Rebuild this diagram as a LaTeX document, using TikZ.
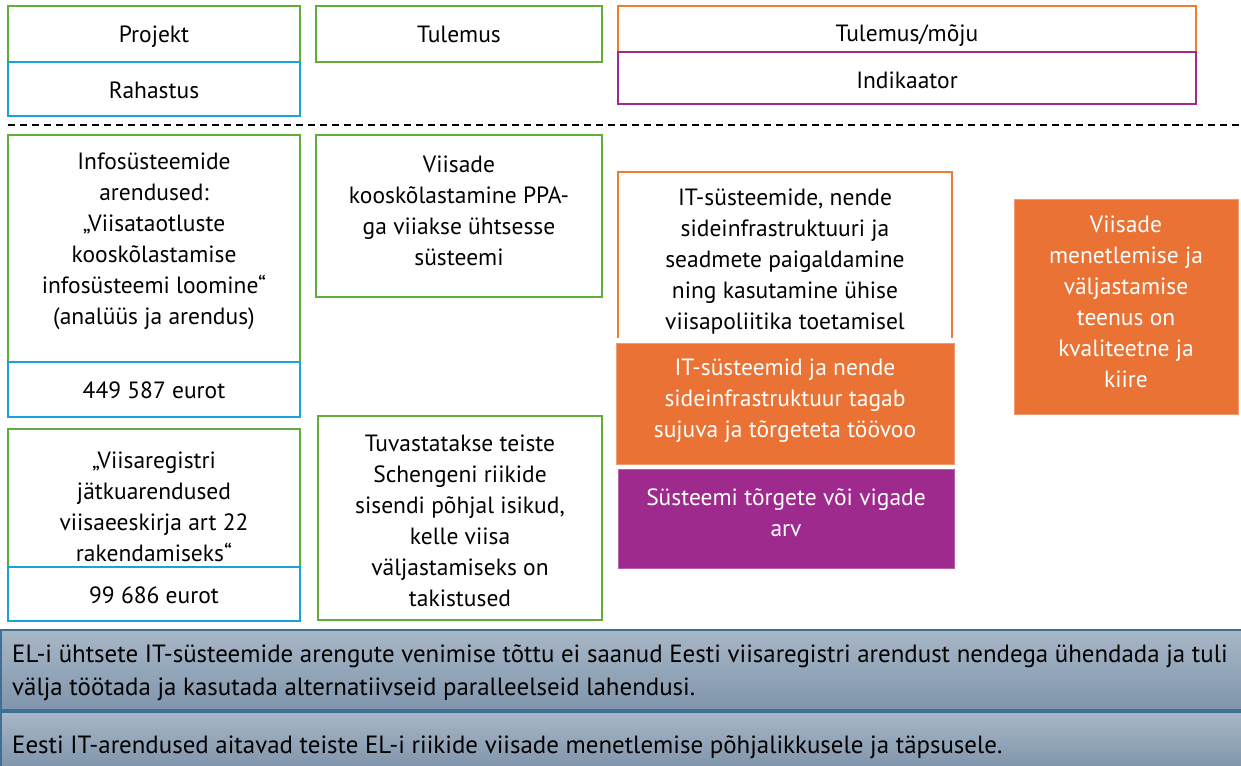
\documentclass[tikz,border=0pt]{standalone}
\usepackage{fontspec}
\setmainfont{PT Sans}
\definecolor{cgreen}{RGB}{98,172,58}
\definecolor{cblue}{RGB}{27,161,219}
\definecolor{corange}{RGB}{237,125,49}
\definecolor{cofill}{RGB}{233,114,52}
\definecolor{cpurple}{RGB}{160,41,143}
\definecolor{cpfill}{RGB}{158,42,142}
\definecolor{bandtop}{RGB}{168,183,199}
\definecolor{bandbot}{RGB}{128,149,172}
\definecolor{bandline}{RGB}{62,112,150}
\tikzset{
  box/.style={anchor=north west, inner sep=0pt, outer sep=0pt, line width=2.5pt},
  gbox/.style={box, draw=cgreen},
  bbox/.style={box, draw=cblue},
  obox/.style={box, draw=corange},
  pbox/.style={box, draw=cpurple},
  ofill/.style={box, fill=cofill, draw=cofill!70!white, line width=1pt},
  pfill/.style={box, fill=cpfill, draw=cpfill!75!white, line width=1pt},
  band/.style={anchor=north west, inner sep=0pt, outer sep=0pt, top color=bandtop, bottom color=bandbot, draw=bandline, line width=1.5pt},
  txt/.style={align=center, inner sep=0pt, font=\fontsize{23.5}{31}\selectfont},
  stxt/.style={txt, text height=17pt, text depth=5pt},
  wtxt/.style={txt, text=white},
  btxt/.style={anchor=base west, inner sep=0pt, font=\fontsize{24.9}{31}\selectfont},
  sep/.style={line width=1.5pt, dash pattern=on 7pt off 5pt}
}
\begin{document}
\begin{tikzpicture}[x=1pt,y=-1pt]
\useasboundingbox (0,0) rectangle (1241,765);
% header
\node[gbox, minimum width=292, minimum height=56] (proj) at (8,6) {};
\node[bbox, minimum width=292, minimum height=54] (rah) at (8,62) {};
\node[gbox, minimum width=286, minimum height=56] (tul) at (316,6) {};
\node[obox, minimum width=578, minimum height=46] (tmoju) at (618,6) {};
\node[pbox, minimum width=578, minimum height=52] (ind) at (618,52) {};
\node[stxt] (projt) at (154,36.5) {Projekt};
\node[stxt] (raht) at (154,92.5) {Rahastus};
\node[stxt] (tult) at (459,36.5) {Tulemus};
\node[stxt] (tmojut) at (907,35.5) {Tulemus/mõju};
\node[stxt] (indt) at (907,83) {Indikaator};
% separator
\coordinate (sepl) at (8,125);
\coordinate (sepr) at (1241,125);
\draw[sep] (sepl) -- (sepr);
% body boxes
\node[gbox, minimum width=292, minimum height=227] (info) at (8,135) {};
\node[bbox, minimum width=292, minimum height=55] (eur1) at (8,362) {};
\node[gbox, minimum width=286, minimum height=162] (viis) at (316,135) {};
\node[gbox, minimum width=292, minimum height=138] (reg) at (8,429) {};
\node[bbox, minimum width=292, minimum height=54] (eur2) at (8,567) {};
\node[gbox, minimum width=284, minimum height=204] (tuv) at (318,416) {};
\node[box, minimum width=334, minimum height=166] (it) at (618,172) {};
\draw[corange, line width=2.5pt] (it.south west) -- (it.north west) -- (it.north east) -- (it.south east);
\node[ofill, minimum width=338, minimum height=121] (itf) at (616,343) {};
\node[pfill, minimum width=336, minimum height=99] (sys) at (618,469) {};
\node[ofill, minimum width=224, minimum height=215] (men) at (1014,199) {};
% texts
\node[txt] (infot) at (154,241) {Infosüsteemide\\arendused:\\„Viisataotluste\\kooskõlastamise\\infosüsteemi loomine“\\(analüüs ja arendus)};
\node[stxt] (eur1t) at (154,392.5) {449 587 eurot};
\node[txt] (viist) at (459,211) {Viisade\\kooskõlastamine PPA-\\ga viiakse ühtsesse\\süsteemi};
\node[txt] (regt) at (154,507) {„Viisaregistri\\jätkuarendused\\viisaeeskirja art 22\\rakendamiseks“};
\node[stxt] (eur2t) at (154,597.5) {99 686 eurot};
\node[txt] (tuvt) at (460,521) {Tuvastatakse teiste\\Schengeni riikide\\sisendi põhjal isikud,\\kelle viisa\\väljastamiseks on\\takistused};
\node[txt] (itt) at (785,262) {IT-süsteemide, nende\\sideinfrastruktuuri ja\\seadmete paigaldamine\\ning kasutamine ühise\\viisapoliitika toetamisel};
\node[wtxt] (itft) at (785,401) {IT-süsteemid ja nende\\sideinfrastruktuur tagab\\sujuva ja tõrgeteta töövoo};
\node[wtxt] (syst) at (786,513) {Süsteemi tõrgete või vigade\\arv};
\node[wtxt] (ment) at (1126,302) {Viisade\\menetlemise ja\\väljastamise\\teenus on\\kvaliteetne ja\\kiire};
% bottom bands
\node[band, minimum width=1241, minimum height=80] (band1) at (1,630) {};
\node[band, minimum width=1241, minimum height=55] (band2) at (1,712) {};
\node[btxt] (b1a) at (12,662) {EL-i ühtsete IT-süsteemide arengute venimise tõttu ei saanud Eesti viisaregistri arendust nendega ühendada ja tuli};
\node[btxt] (b1b) at (12,695) {välja töötada ja kasutada alternatiivseid paralleelseid lahendusi.};
\node[btxt] (b2) at (12,753) {Eesti IT-arendused aitavad teiste EL-i riikide viisade menetlemise põhjalikkusele ja täpsusele.};
\end{tikzpicture}
\end{document}
